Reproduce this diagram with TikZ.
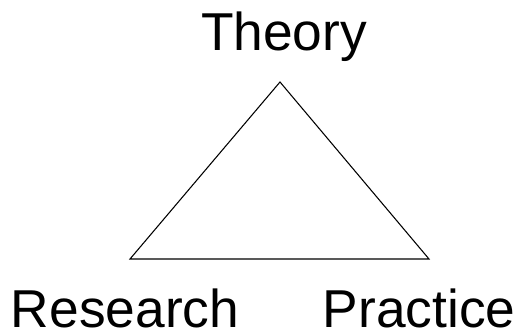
\documentclass[tikz,border=0pt]{standalone}
\usepackage{fontspec}
\setmainfont{Liberation Sans}
\tikzset{lbl/.style={anchor=base,inner sep=0pt,font=\fontsize{40}{48}\selectfont}}

\begin{document}
\begin{tikzpicture}[x=0.75pt,y=-0.75pt]
      \useasboundingbox (0,0) rectangle (516,329);
     	\coordinate (top) at (280,82);
        \coordinate (left) at (130,259);
        \coordinate (right) at (429,259);
        \draw[line width=0.8pt](top)--(left)--(right)--cycle;
        \node[lbl] (theory) at (284,50){Theory};
        \node[lbl] (research) at (125,327){Research};
        \node[lbl] (practice) at (419,327){Practice};
      \end{tikzpicture}
\end{document}
